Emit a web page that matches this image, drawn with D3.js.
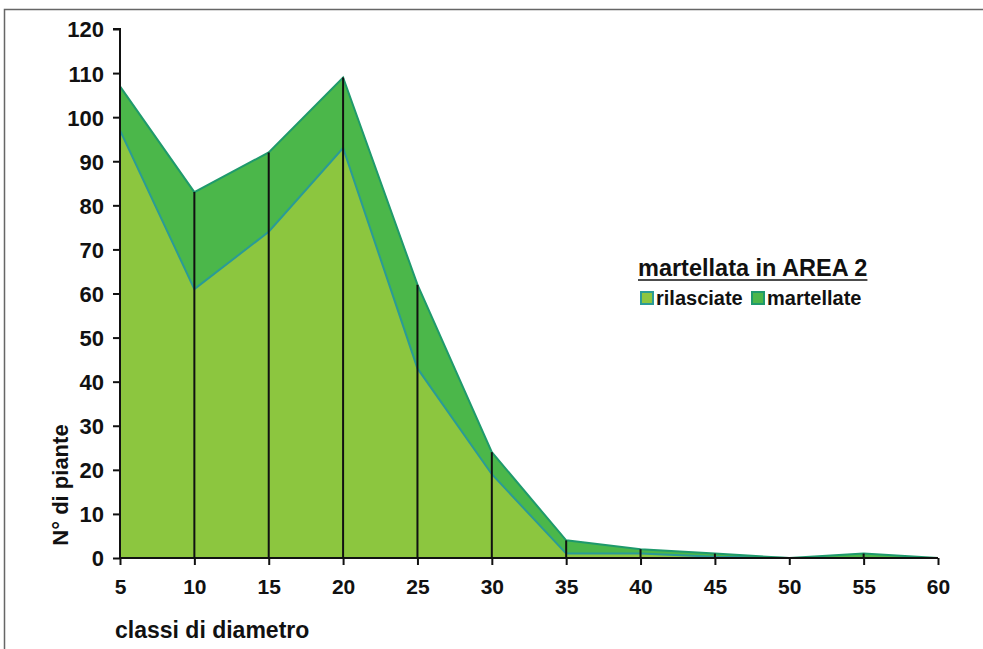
<!DOCTYPE html>
<html><head><meta charset="utf-8">
<script src="https://cdn.jsdelivr.net/npm/d3@7"></script>
<style>
html,body{margin:0;padding:0;background:#fff;}
svg text{font-family:"Liberation Sans",Arial,Helvetica,sans-serif;font-weight:bold;fill:#111;}
</style></head>
<body>
<svg id="chart" width="983" height="649"></svg>
<script>
const categories = [5, 10, 15, 20, 25, 30, 35, 40, 45, 50, 55, 60];
const rilasciate = [97, 61, 74, 93, 43, 19, 1, 1, 0.3, 0, 0, 0];
const martellate = [10, 22, 18, 16, 19, 5, 3, 1, 0.7, 0, 1, 0];
const yTicks = [0, 10, 20, 30, 40, 50, 60, 70, 80, 90, 100, 110, 120];
const seriesNames = ["rilasciate", "martellate"];
const legendTitle = "martellata in AREA 2";
const xTitle = "classi di diametro";
const yTitle = "N° di piante";

const svg = d3.select("#chart");
const colors = {rilasciate: "#8cc63f", martellate: "#4bb74a"};
const lineColors = {rilasciate: "#2a9b96", martellate: "#1f9a6c"};

// frame
svg.append("rect").attr("x", 4.5).attr("y", 9.5).attr("width", 990).attr("height", 700)
  .attr("fill", "none").attr("stroke", "#666").attr("stroke-width", 1.5);

const x = d3.scaleLinear().domain([5, 60]).range([120, 938]);
const y = d3.scaleLinear().domain([0, 120]).range([558, 29]);

const table = categories.map((c, i) => ({c, rilasciate: rilasciate[i], martellate: martellate[i]}));
const stacked = d3.stack().keys(seriesNames)(table);

const area = d3.area().x(d => x(d.data.c)).y0(d => y(d[0])).y1(d => y(d[1]));
const line = d3.line().x(d => x(d.data.c)).y(d => y(d[1]));

stacked.slice().reverse().forEach(s => {
  svg.append("path").attr("d", area(s)).attr("fill", colors[s.key]);
});
stacked.forEach(s => {
  svg.append("path").attr("d", line(s)).attr("fill", "none")
    .attr("stroke", lineColors[s.key]).attr("stroke-width", 2);
});

// drop lines
svg.append("g").selectAll("line").data(table.slice(1)).join("line")
  .attr("x1", d => x(d.c)).attr("x2", d => x(d.c))
  .attr("y1", y(0)).attr("y2", d => y(d.rilasciate + d.martellate))
  .attr("stroke", "#111").attr("stroke-width", 2);

// y axis
const yAxis = d3.axisLeft(y).tickValues(yTicks).tickSize(7).tickPadding(9);
const gy = svg.append("g").attr("transform", "translate(120,0)").call(yAxis);
gy.select(".domain").attr("stroke", "#111").attr("stroke-width", 2).attr("d", `M-7,${y(120)}H0V${y(0)}`);
gy.selectAll(".tick line").attr("stroke", "#111").attr("stroke-width", 2);
gy.selectAll(".tick text").style("font-size", "22px").attr("fill", "#111").attr("dy", "0.36em");

// x axis
const xAxis = d3.axisBottom(x).tickValues(categories).tickSize(7).tickPadding(14);
const gx = svg.append("g").attr("transform", `translate(0,${y(0)})`).call(xAxis);
gx.select(".domain").attr("stroke", "#111").attr("stroke-width", 2).attr("d", `M${x(5)},0H${x(60)}`);
gx.selectAll(".tick line").attr("stroke", "#111").attr("stroke-width", 2);
gx.selectAll(".tick text").style("font-size", "21px").attr("fill", "#111");

// axis titles
svg.append("text").attr("x", 115).attr("y", 638).style("font-size", "23px").text(xTitle);
svg.append("text").attr("transform", "translate(68,485) rotate(-90)").attr("text-anchor", "middle")
  .style("font-size", "22px").text(yTitle);

// legend
const lt = svg.append("text").attr("x", 638).attr("y", 276).style("font-size", "23.5px").text(legendTitle);
const bb = lt.node().getBBox();
svg.append("line").attr("x1", bb.x).attr("x2", bb.x + bb.width).attr("y1", 280).attr("y2", 280)
  .attr("stroke", "#111").attr("stroke-width", 1.5);

const legendX = [641, 752];
seriesNames.forEach((k, i) => {
  svg.append("rect").attr("x", legendX[i]).attr("y", 292).attr("width", 12).attr("height", 12)
    .attr("fill", colors[k]).attr("stroke", lineColors[k]).attr("stroke-width", 2);
  svg.append("text").attr("x", legendX[i] + 15).attr("y", 305).style("font-size", "20px").text(k);
});
</script>
</body></html>
